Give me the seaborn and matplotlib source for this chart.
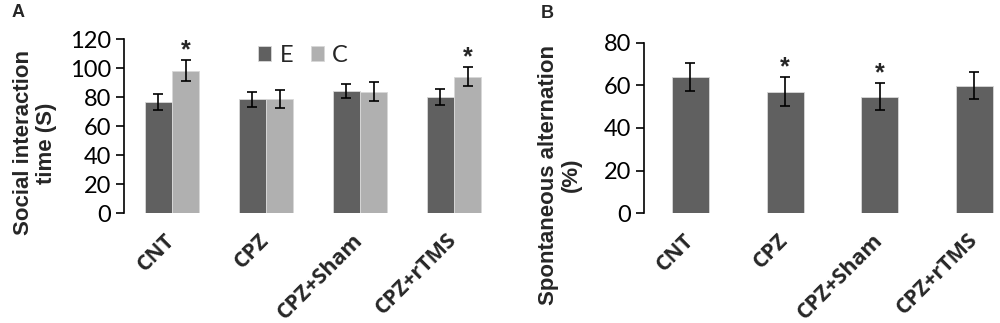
import numpy as np
import pandas as pd
import matplotlib
matplotlib.use('Agg')
import matplotlib.pyplot as plt
import seaborn as sns

groups = ['CNT', 'CPZ', 'CPZ+Sham', 'CPZ+rTMS']

# panel A: social interaction time (S)
social_e = [76.8, 78.5, 84.3, 80.2]
social_e_err = [5.6, 5.0, 4.6, 5.5]
social_c = [98.4, 79.0, 83.9, 94.2]
social_c_err = [7.5, 6.3, 6.4, 6.5]
social_star_e = [False, False, False, False]
social_star_c = [True, False, False, True]

# panel B: spontaneous alternation (%)
alternation = [63.9, 57.0, 54.7, 59.8]
alternation_err = [6.4, 6.7, 6.2, 6.4]
alternation_star = [False, True, True, False]

dark = '#606060'
light = '#b0b0b0'

sns.set_theme(style='white')
plt.rcParams['font.family'] = ['Lato', 'DejaVu Sans']

fig = plt.figure(figsize=(10, 3.23), dpi=100)
W, H = 1000, 323
axA = fig.add_axes([124 / W, 1 - 213.3 / H, (501 - 124) / W, (213.3 - 39.3) / H])
axB = fig.add_axes([644 / W, 1 - 213.3 / H, (1000 - 644) / W, (213.3 - 42.7) / H])

ylab_font = dict(family=['Liberation Sans', 'DejaVu Sans'], fontweight='bold')
star_font = dict(family=['Liberation Sans', 'DejaVu Sans'], fontweight='bold',
                 fontsize=18)

# ---- panel A
dA = pd.DataFrame({
    'group': groups * 2,
    'cond': ['E'] * 4 + ['C'] * 4,
    'value': social_e + social_c,
})
sns.barplot(data=dA, x='group', y='value', hue='cond', order=groups,
            hue_order=['E', 'C'], palette=[dark, light], width=0.58,
            errorbar=None, ax=axA, edgecolor='#d8d8d8', linewidth=0.6)
bw = 0.29
x = np.arange(len(groups))
for off, vals, errs, stars in [(-bw / 2, social_e, social_e_err, social_star_e),
                               (bw / 2, social_c, social_c_err, social_star_c)]:
    axA.errorbar(x + off, vals, yerr=errs, fmt='none', ecolor='black',
                 elinewidth=1.2, capsize=3.6, capthick=1.2)
    for xi, v, e, s in zip(x + off, vals, errs, stars):
        if s:
            axA.text(xi, v + e - 1.5, '*', ha='center', va='bottom', **star_font)
axA.set_ylim(0, 120)
axA.set_yticks(range(0, 121, 20))
axA.set_xlim(-0.51, 3.5)
axA.set_ylabel('Social interaction\ntime (S)', fontsize=16,
               linespacing=1.1, **ylab_font)
axA.yaxis.set_label_coords(-0.178, 0.405)
leg = axA.legend(loc='upper center', bbox_to_anchor=(0.475, 1.09), ncol=2,
                 frameon=False, fontsize=17, handlelength=0.55, handleheight=0.55,
                 columnspacing=0.75, handletextpad=0.35)

# ---- panel B
dB = pd.DataFrame({'group': groups, 'value': alternation})
sns.barplot(data=dB, x='group', y='value', order=groups, color=dark,
            width=0.39, errorbar=None, ax=axB, edgecolor='#d8d8d8', linewidth=0.6)
axB.errorbar(x, alternation, yerr=alternation_err, fmt='none', ecolor='black',
             elinewidth=1.2, capsize=3.6, capthick=1.2)
for xi, v, e, s in zip(x, alternation, alternation_err, alternation_star):
    if s:
        axB.text(xi, v + e - 1.0, '*', ha='center', va='bottom', **star_font)
axB.set_ylim(0, 80)
axB.set_yticks(range(0, 81, 20))
axB.set_xlim(-0.49, 3.27)
axB.set_ylabel('Spontaneous alternation\n(%)', fontsize=16,
               linespacing=1.1, **ylab_font)
axB.yaxis.set_label_coords(-0.174, 0.225)

for ax in (axA, axB):
    ax.set_xlabel('')
    for side in ('top', 'right', 'bottom'):
        ax.spines[side].set_visible(False)
    ax.spines['left'].set_color('black')
    ax.spines['left'].set_linewidth(1.2)
    ax.tick_params(axis='y', left=True, length=6, width=1.2, labelsize=17,
                   colors='black', pad=3)
    ax.tick_params(axis='x', bottom=False, pad=11)
    ax.set_xticks(x)
    ax.set_xticklabels(groups, rotation=45, ha='right', va='center',
                       rotation_mode='anchor', fontsize=15.5,
                       fontweight='bold', family=['Open Sans', 'DejaVu Sans'])

fig.text(12 / W, 1 - 12.5 / H, 'A', fontsize=13, fontweight='bold',
         family=['Liberation Sans'], va='center')
fig.text(541 / W, 1 - 14 / H, 'B', fontsize=13, fontweight='bold',
         family=['Liberation Sans'], va='center')

fig.savefig('out.png', dpi=100)
